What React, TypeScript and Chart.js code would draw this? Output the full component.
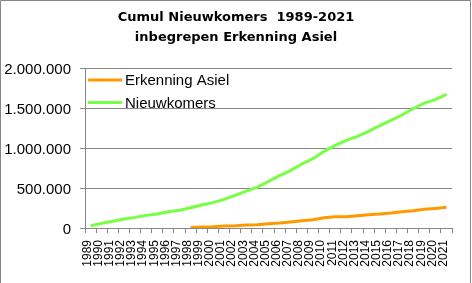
import React, { useEffect, useRef } from "react";
import { Chart, registerables } from "chart.js";

Chart.register(...registerables);

const years: string[] = [
  "1989", "1990", "1991", "1992", "1993", "1994", "1995", "1996", "1997", "1998",
  "1999", "2000", "2001", "2002", "2003", "2004", "2005", "2006", "2007", "2008",
  "2009", "2010", "2011", "2012", "2013", "2014", "2015", "2016", "2017", "2018",
  "2019", "2020", "2021",
];

const erkenningAsiel: (number | null)[] = [
  null, null, null, null, null, null, null, null, null, 5000,
  12000, 16000, 25000, 29000, 37000, 41000, 54000, 62000, 75000, 91000,
  104000, 129000, 141000, 142000, 154000, 166000, 175000, 187000, 204000, 216000,
  233000, 245000, 258000,
];

const nieuwkomers: number[] = [
  28000, 58000, 84000, 112000, 133000, 158000, 175000, 204000, 221000, 254000,
  288000, 317000, 358000, 408000, 462000, 512000, 583000, 654000, 720000, 800000,
  866000, 958000, 1033000, 1095000, 1145000, 1208000, 1279000, 1345000, 1412000, 1491000,
  1562000, 1604000, 1670000,
];

const titleLines: string[] = ["Cumul Nieuwkomers  1989-2021", "inbegrepen Erkenning Asiel"];
const seriesLabels: string[] = ["Erkenning Asiel", "Nieuwkomers"];
const seriesColors: string[] = ["#FF9900", "#77FF44"];

const fmt = (v: number) =>
  Math.round(v).toString().replace(/\B(?=(\d{3})+(?!\d))/g, ".");

const borderPlugin = {
  id: "frameBorder",
  beforeDraw(chart: any) {
    const ctx = chart.ctx;
    ctx.save();
    ctx.fillStyle = "#ffffff";
    ctx.fillRect(0, 0, chart.width, chart.height);
    ctx.strokeStyle = "#868686";
    ctx.lineWidth = 1;
    ctx.beginPath();
    ctx.moveTo(0.5, chart.height);
    ctx.lineTo(0.5, 0.5);
    ctx.lineTo(470.5, 0.5);
    ctx.lineTo(470.5, chart.height);
    ctx.stroke();
    ctx.restore();
  },
};

const innerLegend = {
  id: "innerLegend",
  afterDraw(chart: any) {
    const ctx = chart.ctx;
    const area = chart.chartArea;
    const x0 = area.left + 3;
    let y = area.top + 12;
    ctx.save();
    ctx.font = "15px 'Liberation Sans'";
    ctx.textBaseline = "middle";
    ctx.textAlign = "left";
    chart.data.datasets.forEach((ds: any) => {
      ctx.strokeStyle = ds.borderColor;
      ctx.lineWidth = 3;
      ctx.beginPath();
      ctx.moveTo(x0, y);
      ctx.lineTo(x0 + 34, y);
      ctx.stroke();
      ctx.fillStyle = "#000000";
      ctx.fillText(ds.label, x0 + 37, y + 1);
      y += 22.5;
    });
    ctx.restore();
  },
};

export default function App() {
  const canvasRef = useRef<HTMLCanvasElement | null>(null);

  useEffect(() => {
    document.body.style.margin = "0";
    const canvas = canvasRef.current;
    if (!canvas) return;
    const chart = new Chart(canvas, {
      type: "line",
      data: {
        labels: years,
        datasets: [
          {
            label: seriesLabels[0],
            data: erkenningAsiel,
            borderColor: seriesColors[0],
            backgroundColor: seriesColors[0],
            borderWidth: 3,
            pointRadius: 0,
            tension: 0,
            spanGaps: false,
          },
          {
            label: seriesLabels[1],
            data: nieuwkomers,
            borderColor: seriesColors[1],
            backgroundColor: seriesColors[1],
            borderWidth: 3,
            pointRadius: 0,
            tension: 0,
          },
        ],
      },
      options: {
        responsive: false,
        animation: false,
        devicePixelRatio: 1,
        layout: { padding: 0 },
        plugins: {
          legend: { display: false },
          tooltip: { enabled: false },
          title: {
            display: true,
            text: titleLines,
            color: "#000000",
            font: { family: "'DejaVu Sans'", size: 13, weight: "bold", lineHeight: 20 / 13 },
            padding: { top: 8, bottom: 20 },
          },
        },
        scales: {
          x: {
            type: "category",
            offset: true,
            grid: {
              offset: true,
              drawOnChartArea: false,
              drawTicks: true,
              tickLength: 5,
              color: "#868686",
            },
            border: { display: true, color: "#868686", width: 1 },
            ticks: {
              autoSkip: false,
              minRotation: 90,
              maxRotation: 90,
              color: "#000000",
              padding: 7,
              labelOffset: -3,
              font: { family: "'Liberation Sans'", size: 12 },
            },
            afterFit(scale: any) {
              scale.height = 55;
            },
          },
          y: {
            min: 0,
            max: 2000000,
            grid: {
              color: "#868686",
              tickLength: 5,
              drawTicks: true,
            },
            border: { display: true, color: "#868686", width: 1 },
            ticks: {
              stepSize: 500000,
              color: "#000000",
              padding: 9,
              labelOffset: 2,
              font: { family: "'Liberation Sans'", size: 15 },
              callback: (v: any) => fmt(Number(v)),
            },
            afterFit(scale: any) {
              scale.width = 85;
            },
          },
          spacer: {
            type: "linear",
            position: "right",
            display: true,
            grid: { display: false, drawOnChartArea: false },
            border: { display: false },
            ticks: { display: false },
            afterFit(scale: any) {
              scale.width = 20;
            },
          },
        },
      },
      plugins: [borderPlugin, innerLegend],
    });
    return () => chart.destroy();
  }, []);

  return (
    <div style={{ width: 472, height: 283 }}>
      <canvas ref={canvasRef} width={472} height={283} style={{ display: "block" }} />
    </div>
  );
}
